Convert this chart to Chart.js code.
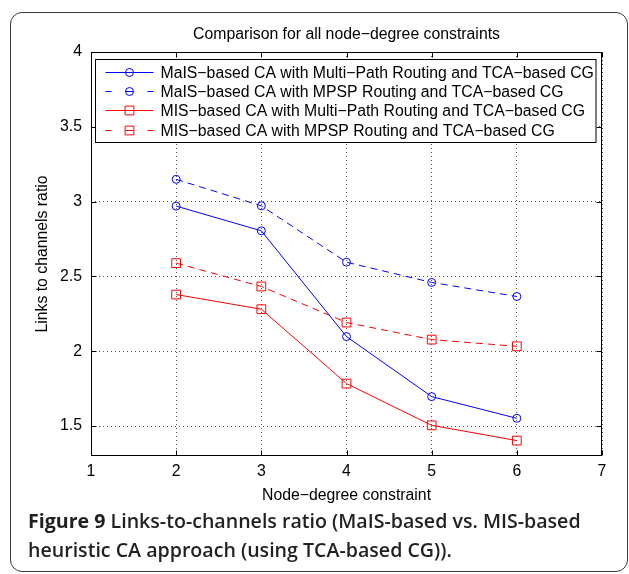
<!DOCTYPE html>
<html>
<head>
<meta charset="utf-8">
<script src="https://cdn.jsdelivr.net/npm/chart.js@4.4.1/dist/chart.umd.min.js"></script>
<style>
  html, body { margin: 0; padding: 0; background: #fff; }
  #frame {
    position: absolute; left: 10px; top: 12px; width: 616px; height: 558px;
    border: 1.5px solid #3a3a3a; border-radius: 12px;
  }
  #wrap { position: absolute; left: 0; top: 0; width: 629px; height: 510px; }
  #caption {
    position: absolute; left: 28px; top: 507px; width: 598px; white-space: nowrap;
    font-family: "Open Sans", Lato, sans-serif; font-size: 19.6px; line-height: 28.5px;
    color: #231f20; font-weight: 600; letter-spacing: 0;
  }
  #caption b { font-weight: 700; }
</style>
</head>
<body>
<div id="frame"></div>
<div id="wrap"><canvas id="chart" width="629" height="510"></canvas></div>
<div id="caption"><b>Figure 9</b> Links-to-channels ratio (MaIS-based vs. MIS-based<br>heuristic CA approach (using TCA-based CG)).</div>
<script>
// --- data ---
const nodeDegree = [2, 3, 4, 5, 6];
const maisMultiPath = [2.97, 2.805, 2.098, 1.697, 1.552];
const maisMpsp = [3.149, 2.972, 2.595, 2.46, 2.366];
const misMultiPath = [2.379, 2.281, 1.784, 1.505, 1.403];
const misMpsp = [2.589, 2.433, 2.192, 2.078, 2.033];

const xTicks = [1, 2, 3, 4, 5, 6, 7];
const yTicks = [1.5, 2, 2.5, 3, 3.5, 4];

const seriesLabels = [
    'MaIS\u2212based CA with Multi\u2212Path Routing and TCA\u2212based CG',
    'MaIS\u2212based CA with MPSP Routing and TCA\u2212based CG',
    'MIS\u2212based CA with Multi\u2212Path Routing and TCA\u2212based CG',
    'MIS\u2212based CA with MPSP Routing and TCA\u2212based CG'
];

const FONT = '"Liberation Sans", Arial, sans-serif';
const FS = 15.8;

function points(ys) {
    return nodeDegree.map((x, i) => ({ x, y: ys[i] }));
}

function makeSet(label, ys, color, dashed, style) {
    return {
        label,
        data: points(ys),
        borderColor: color,
        borderWidth: 1,
        borderDash: dashed ? [7, 5] : [],
        pointStyle: style,
        pointRadius: style === 'rect' ? 6.2 : 4,
        pointBorderWidth: 1,
        pointBorderColor: color,
        pointBackgroundColor: 'rgba(0,0,0,0)',
        tension: 0,
        fill: false
    };
}

// MATLAB-like box, inward ticks and legend inside the axes
const matlabBox = {
    id: 'matlabBox',
    afterDatasetsDraw(chart) {
        const { ctx, chartArea: a, scales } = chart;
        ctx.save();
        ctx.strokeStyle = '#000';
        ctx.lineWidth = 1;
        ctx.setLineDash([]);
        const L = Math.round(a.left) + 0.5, R = Math.round(a.right) - 0.5;
        const T = Math.round(a.top) + 0.5, B = Math.round(a.bottom) - 0.5;
        ctx.strokeRect(L, T, R - L, B - T);
        const tl = 5;
        ctx.beginPath();
        scales.x.ticks.forEach(t => {
            const px = Math.round(scales.x.getPixelForValue(t.value)) + 0.5;
            ctx.moveTo(px, B); ctx.lineTo(px, B - tl);
            ctx.moveTo(px, T); ctx.lineTo(px, T + tl);
        });
        scales.y.ticks.forEach(t => {
            const py = Math.round(scales.y.getPixelForValue(t.value)) + 0.5;
            ctx.moveTo(L, py); ctx.lineTo(L + tl, py);
            ctx.moveTo(R, py); ctx.lineTo(R - tl, py);
        });
        ctx.stroke();

        // legend
        const lx = Math.round(a.left) + 4.5, ly = Math.round(a.top) + 7.5;
        const lw = Math.round(a.right) - 6 - lx, lh = 83;
        ctx.fillStyle = '#fff';
        ctx.fillRect(lx, ly, lw, lh);
        ctx.strokeRect(lx, ly, lw, lh);
        ctx.font = FS + 'px ' + FONT;
        ctx.textBaseline = 'middle';
        ctx.textAlign = 'left';
        chart.data.datasets.forEach((ds, i) => {
            const y = Math.round(ly + 12.5 + i * 19.2) + 0.5;
            const x0 = lx + 10, x1 = lx + 58, xm = (x0 + x1) / 2;
            ctx.strokeStyle = ds.borderColor;
            ctx.beginPath();
            if (ds.borderDash.length) {
                ctx.moveTo(x0, y); ctx.lineTo(x0 + 6, y);
                ctx.moveTo(x1 - 6, y); ctx.lineTo(x1, y);
                ctx.moveTo(xm - 4, y); ctx.lineTo(xm + 4, y);
            } else {
                ctx.moveTo(x0, y); ctx.lineTo(x1, y);
            }
            ctx.stroke();
            ctx.fillStyle = 'rgba(0,0,0,0)';
            Chart.helpers.drawPoint(ctx, {
                pointStyle: ds.pointStyle, radius: ds.pointRadius, rotation: 0, borderWidth: 1
            }, xm, y);
            ctx.fillStyle = '#000';
            ctx.fillText(ds.label, lx + 65, y + 1);
        });
        ctx.restore();
    }
};

function fixTicks(values) {
    return scale => { scale.ticks = values.map(v => ({ value: v })); };
}

new Chart(document.getElementById('chart'), {
    type: 'line',
    data: {
        datasets: [
            makeSet(seriesLabels[0], maisMultiPath, '#0000ff', false, 'circle'),
            makeSet(seriesLabels[1], maisMpsp, '#0000ff', true, 'circle'),
            makeSet(seriesLabels[2], misMultiPath, '#ff0000', false, 'rect'),
            makeSet(seriesLabels[3], misMpsp, '#ff0000', true, 'rect')
        ]
    },
    options: {
        responsive: false,
        animation: false,
        layout: { padding: { left: 0, right: 27, top: 0, bottom: 0 } },
        plugins: {
            legend: { display: false },
            tooltip: { enabled: false },
            title: { display: false }
        },
        scales: {
            x: {
                type: 'linear',
                min: 1,
                max: 7,
                afterBuildTicks: fixTicks(xTicks),
                afterFit: s => { s.height = 54; },
                ticks: { color: '#000', font: { family: FONT, size: FS }, padding: 6, maxRotation: 0, callback: v => String(v) },
                grid: { color: '#555', lineWidth: 1, drawTicks: false },
                border: { display: false, dash: [1, 3] },
                title: {
                    display: true, text: 'Node\u2212degree constraint', color: '#000',
                    font: { family: FONT, size: FS }, padding: { top: 0, bottom: 5 }
                }
            },
            // top axis only carries the plot title, centred over the axes
            xTop: {
                type: 'linear',
                position: 'top',
                min: 1,
                max: 7,
                afterFit: s => { s.height = 52; },
                ticks: { display: false },
                grid: { display: false },
                border: { display: false },
                title: {
                    display: true, text: 'Comparison for all node\u2212degree constraints', color: '#000',
                    font: { family: FONT, size: FS }, padding: { top: 25.5, bottom: 0 }
                }
            },
            y: {
                type: 'linear',
                min: 1.3,
                max: 4,
                afterBuildTicks: fixTicks(yTicks),
                afterFit: s => { s.width = 91; },
                ticks: { color: '#000', font: { family: FONT, size: FS }, padding: 9, callback: v => String(v) },
                grid: { color: '#555', lineWidth: 1, drawTicks: false },
                border: { display: false, dash: [1, 3] },
                title: {
                    display: true, text: 'Links to channels ratio', color: '#000',
                    font: { family: FONT, size: FS }, padding: { top: 33.5, bottom: 0 }
                }
            }
        }
    },
    plugins: [matlabBox]
});
</script>
</body>
</html>
